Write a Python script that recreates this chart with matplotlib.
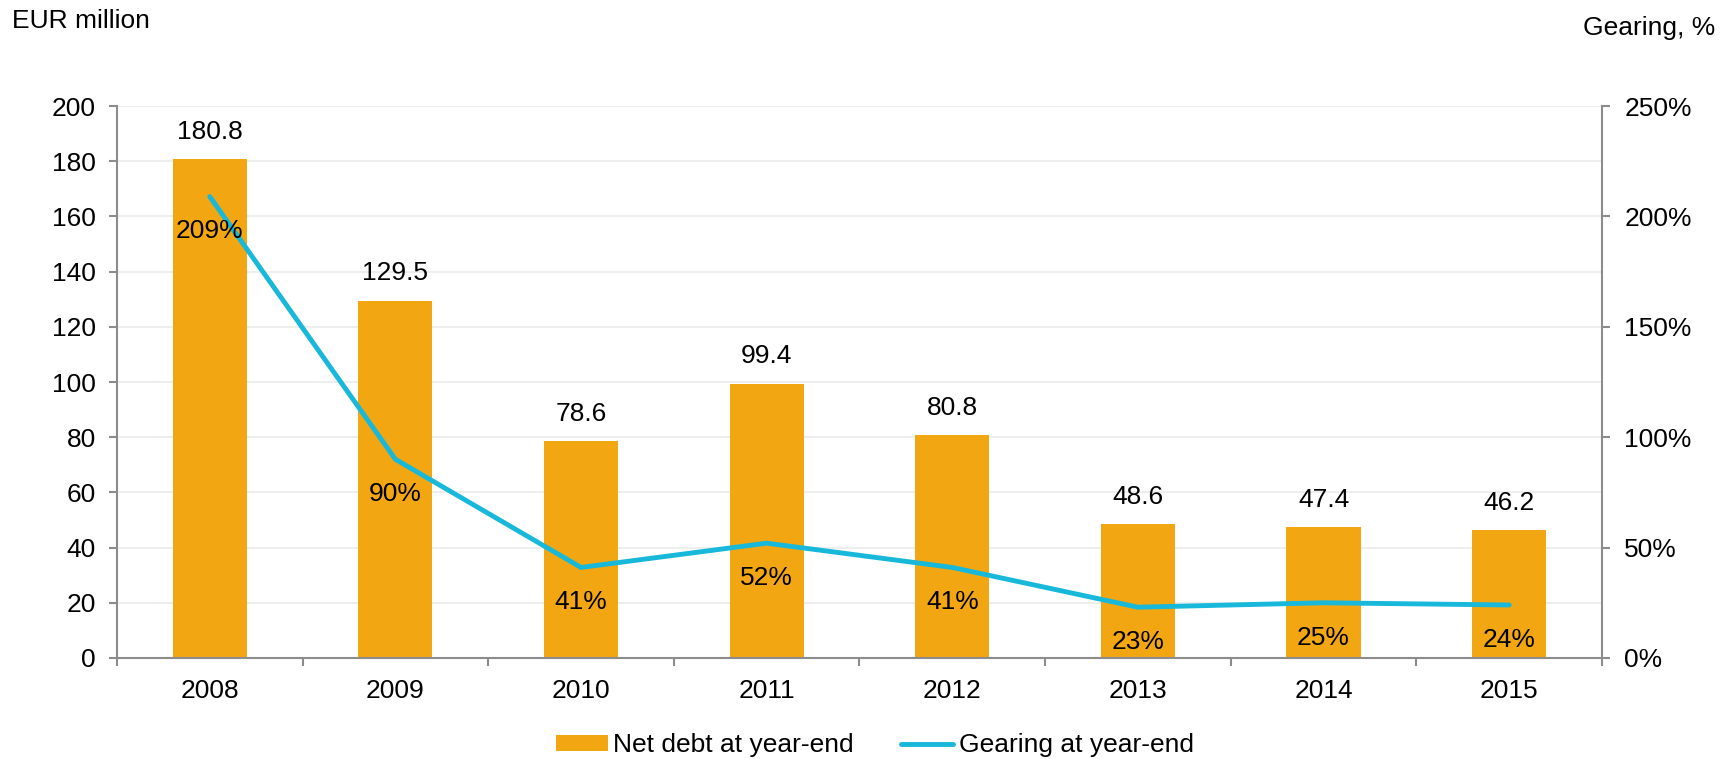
import numpy as np
import matplotlib.pyplot as plt

plt.rcParams['font.family'] = ['Liberation Sans', 'DejaVu Sans']

years = ['2008', '2009', '2010', '2011', '2012', '2013', '2014', '2015']
net_debt = [180.8, 129.5, 78.6, 99.4, 80.8, 48.6, 47.4, 46.2]
gearing = [209, 90, 41, 52, 41, 23, 25, 24]

bar_col = '#F2A712'
line_col = '#17B8DA'
axis_col = '#8C8C8C'
fs = 19

fig = plt.figure(figsize=(17.22, 7.59), dpi=100)
ax = fig.add_axes([0.0679, 0.1331, 0.8624, 0.7272])
ax2 = ax.twinx()

x = np.arange(len(years))
bars = ax.bar(x, net_debt, width=0.40, color=bar_col, zorder=2, label='Net debt at year-end')
ln, = ax2.plot(x, gearing, color=line_col, lw=3.5, solid_capstyle='round', zorder=3,
               label='Gearing at year-end')

ax.set_xlim(-0.5, len(years) - 0.5)
ax.set_ylim(0, 200)
ax2.set_ylim(0, 250)
ax.set_yticks(np.arange(0, 201, 20))
ax2.set_yticks(np.arange(0, 251, 50))
ax2.set_yticklabels([f'{v}%' for v in range(0, 251, 50)])

ax.yaxis.grid(True, color='#EBEBEB', lw=1.2, zorder=0)
ax.set_axisbelow(True)

# category ticks sit between the bars
ax.set_xticks(x)
ax.set_xticklabels(years)
ax.tick_params(axis='x', length=0, pad=15, labelsize=fs)
ax.set_xticks(np.arange(-0.5, len(years)), minor=True)
ax.tick_params(axis='x', which='minor', length=6, color=axis_col, width=1.5)
ax.tick_params(axis='y', length=6, color=axis_col, width=1.5, labelsize=fs, pad=9)
ax2.tick_params(axis='y', length=6, color=axis_col, width=1.5, labelsize=fs, pad=10)

for a in (ax, ax2):
    a.spines['top'].set_visible(False)
    for s in ('left', 'right', 'bottom'):
        a.spines[s].set_color(axis_col)
        a.spines[s].set_linewidth(1.5)
ax.spines['right'].set_visible(False)
ax2.spines['left'].set_visible(False)
ax2.spines['bottom'].set_visible(False)

for xi, v in zip(x, net_debt):
    ax.annotate(f'{v:.1f}', (xi, v), xytext=(0, 11), textcoords='offset points',
                ha='center', va='bottom', fontsize=fs)
for xi, g in zip(x, gearing):
    ax2.annotate(f'{g}%', (xi, g), xytext=(0, -25), textcoords='offset points',
                 ha='center', va='center', fontsize=fs, zorder=4)

fig.text(0.007, 0.972, 'EUR million', fontsize=fs, ha='left', va='center')
fig.text(0.996, 0.963, 'Gearing, %', fontsize=fs, ha='right', va='center')

fig.legend(handles=[bars, ln], loc='center', bbox_to_anchor=(0.508, 0.018), ncol=2,
           frameon=False, fontsize=fs, handlelength=1.97, handleheight=0.53,
           handletextpad=0.2, columnspacing=1.8, borderpad=0)

fig.savefig('out.png', dpi=100)
